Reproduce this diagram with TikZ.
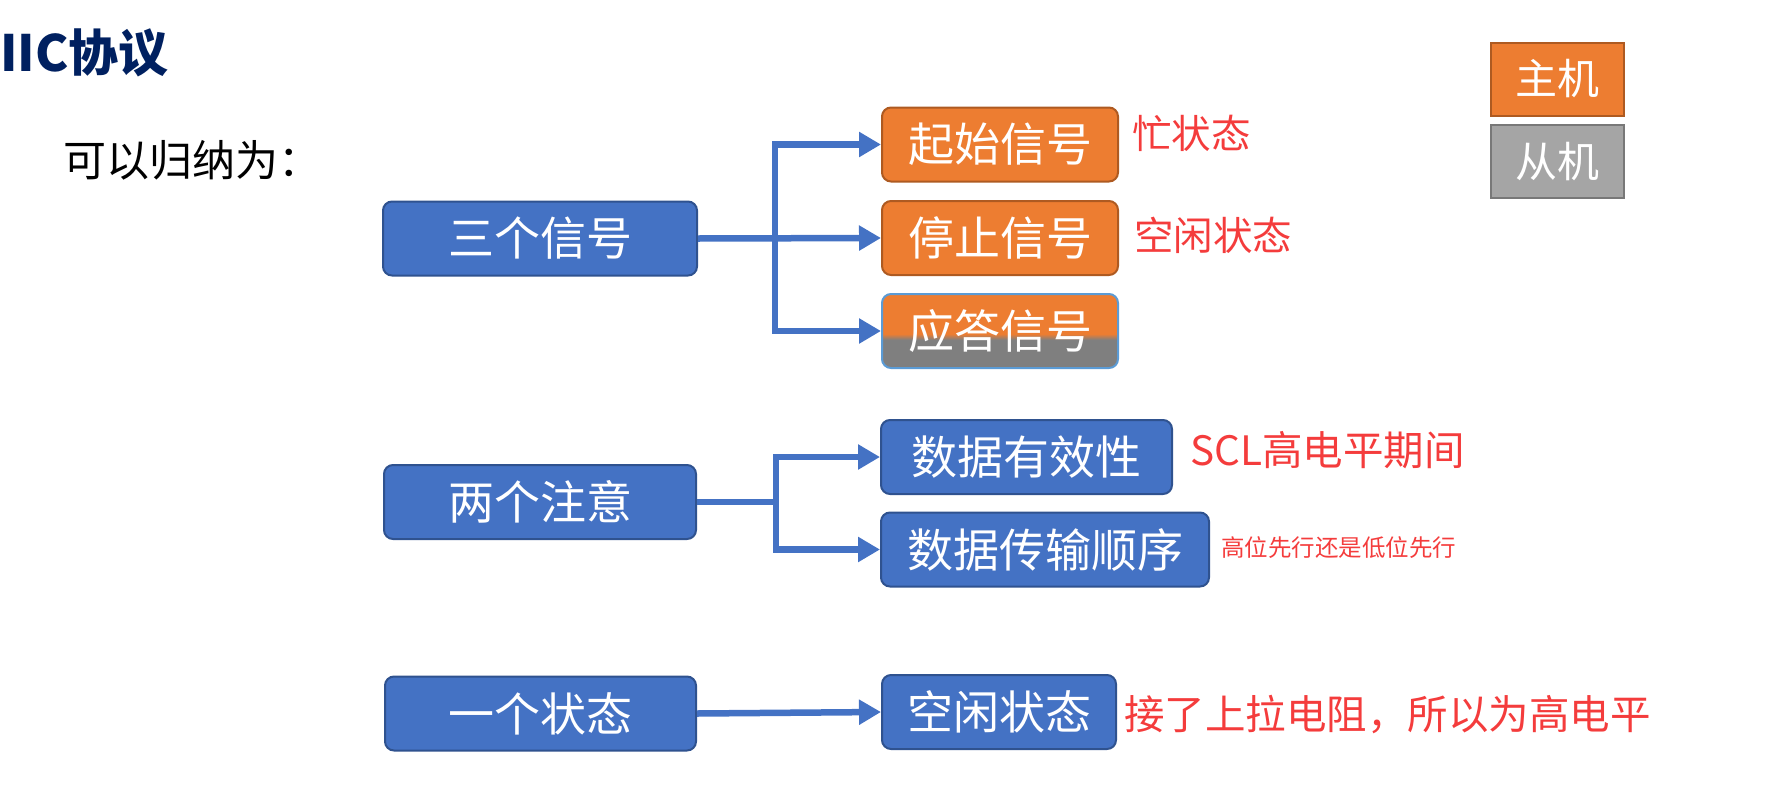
\documentclass[tikz,border=0pt]{standalone}
\usepackage{fontspec}
\newfontfamily\cjk{Noto Sans CJK SC}
\usetikzlibrary{arrows.meta}
\definecolor{cblue}{HTML}{4472C4}
\definecolor{cblueb}{HTML}{2F528F}
\definecolor{corange}{HTML}{ED7D31}
\definecolor{corangeb}{HTML}{AE5A21}
\definecolor{cgray}{HTML}{A5A5A5}
\definecolor{cgrayb}{HTML}{787878}
\definecolor{cdgray}{HTML}{7F7F7F}
\definecolor{clb}{HTML}{5B9BD5}
\definecolor{cred}{HTML}{F43C3C}
\definecolor{cnavy}{HTML}{002060}
\pgfdeclareverticalshading{ansshade}{100bp}{color(0bp)=(cdgray); color(44bp)=(cdgray); color(48bp)=(corange); color(100bp)=(corange)}
\tikzset{
  box/.style={rounded corners=9pt, minimum height=74pt, inner sep=0pt, text=white,
    font=\cjk\fontsize{46}{46}\selectfont, line width=2pt},
  bluebox/.style={box, fill=cblue, draw=cblueb},
  orangebox/.style={box, fill=corange, draw=corangeb},
  legend/.style={box, rounded corners=0pt, minimum width=133pt, minimum height=73pt, font=\cjk\fontsize{42}{42}\selectfont},
  note/.style={anchor=west, inner sep=0pt, text=cred, font=\cjk\fontsize{39.5}{39.5}\selectfont},
  conn/.style={draw=cblue, line width=6.5pt, -{Triangle[length=22pt,width=24pt]}},
  conn2/.style={draw=cblue, line width=6.5pt, {Triangle[length=22pt,width=24pt]}-{Triangle[length=22pt,width=24pt]}},
  plain/.style={draw=cblue, line width=6.5pt}
}
\begin{document}
\begin{tikzpicture}[x=1pt, y=-1pt]
\useasboundingbox (0,0) rectangle (1768,798);
% title
\node[anchor=west, inner sep=0pt, text=cnavy, font=\cjk\bfseries\fontsize{50}{50}\selectfont] (title) at (0,53) {IIC协议};
\node[anchor=west, inner sep=0pt, text=black, font=\cjk\fontsize{43}{43}\selectfont] (sub) at (63,160) {可以归纳为：};
% legend
\node[legend, fill=corange, draw=corangeb] (master) at (1557.5,79) {主机};
\node[legend, fill=cgray, draw=cgrayb] (slave) at (1557.5,161.5) {从机};
% group 1
\node[bluebox, minimum width=314pt] (sig) at (540,238.5) {三个信号};
\node[orangebox, minimum width=236pt] (start) at (1000,144.5) {起始信号};
\node[orangebox, minimum width=236pt] (stop) at (1000,238) {停止信号};
\node[box, minimum width=236pt, shade, shading=ansshade, draw=clb] (ack) at (1000,331) {应答信号};
\coordinate (j1) at (775,238);
\draw[conn] (sig.east) -- (stop.west);
\draw[conn2] (start.west) -| (j1 |- ack.west) -- (ack.west);
\node[note] (busy) at (1132,133) {忙状态};
\node[note] (idle1) at (1134,235) {空闲状态};
% group 2
\node[bluebox, minimum width=312pt] (att) at (540,502) {两个注意};
\node[bluebox, minimum width=291pt] (valid) at (1026.5,457) {数据有效性};
\node[bluebox, minimum width=328pt] (order) at (1045,549.5) {数据传输顺序};
\coordinate (j2) at (776,502);
\draw[plain] (att.east) -- (j2);
\draw[conn2] (valid.west) -| (j2 |- order.west) -- (order.west);
\node[note, font=\cjk\fontsize{40.5}{40.5}\selectfont] (scl) at (1190,450) {SCL高电平期间};
\node[note, font=\cjk\fontsize{23.5}{23.5}\selectfont] (msb) at (1221,548) {高位先行还是低位先行};
% group 3
\node[bluebox, minimum width=311pt] (state) at (540.5,713.5) {一个状态};
\node[bluebox, minimum width=234pt] (idle) at (999,712) {空闲状态};
\draw[conn] (state.east) -- (idle.west);
\node[note, font=\cjk\fontsize{40.5}{40.5}\selectfont] (pull) at (1124,715) {接了上拉电阻，所以为高电平};
\end{tikzpicture}
\end{document}
